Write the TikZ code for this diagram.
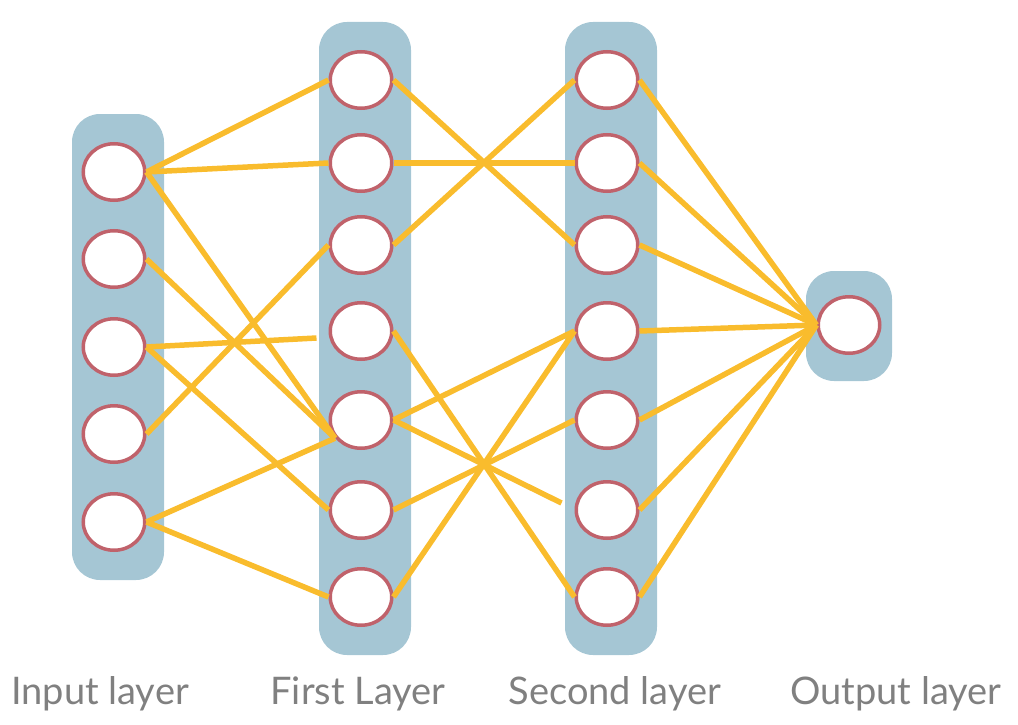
\documentclass[tikz,border=0pt]{standalone}
\usepackage{fontspec}
\setmainfont{Lato}
\usetikzlibrary{ shapes.geometric, % For the elliptic neurons
                 fit,              % For the layer boxes round the neurons
                 backgrounds,      % To put the layer boxes behind
               }
\definecolor{layerblue}{HTML}{A5C6D4}
\definecolor{neuronred}{HTML}{C0626B}
\definecolor{weightyellow}{HTML}{F9BC2D}
\definecolor{captiongray}{HTML}{808080}
\tikzstyle{neuron} = [ellipse, draw=neuronred, fill=white, line width=3.5pt, inner sep=0pt, minimum width=61.5pt, minimum height=56.5pt]
\tikzstyle{layerbox} = [rectangle, fill=layerblue, rounded corners=28pt, inner xsep=13.5pt, inner ysep=28pt]
\tikzstyle{weight} = [draw=weightyellow, line width=5.5pt]
\tikzstyle{caption} = [text=captiongray, anchor=base, font=\fontsize{38}{42}\selectfont]

\begin{document}
\begin{tikzpicture}[x=1pt, y=-1pt]
  \useasboundingbox (0,0) rectangle (1018,725);

  % input layer
  \node (i1) [neuron] at (114, 172) {};
  \node (i2) [neuron] at (114, 259) {};
  \node (i3) [neuron] at (114, 347) {};
  \node (i4) [neuron] at (114, 434) {};
  \node (i5) [neuron] at (114, 522) {};

  % first layer
  \node (f1) [neuron] at (361, 80) {};
  \node (f2) [neuron] at (361, 163) {};
  \node (f3) [neuron] at (361, 245) {};
  \node (f4) [neuron] at (361, 331) {};
  \node (f5) [neuron] at (361, 420) {};
  \node (f6) [neuron] at (361, 510) {};
  \node (f7) [neuron] at (361, 597) {};

  % second layer
  \node (s1) [neuron] at (607, 80) {};
  \node (s2) [neuron] at (607, 163) {};
  \node (s3) [neuron] at (607, 245) {};
  \node (s4) [neuron] at (607, 331) {};
  \node (s5) [neuron] at (607, 420) {};
  \node (s6) [neuron] at (607, 510) {};
  \node (s7) [neuron] at (607, 597) {};

  % output layer
  \node (o1) [neuron] at (849, 325) {};

  \begin{pgfonlayer}{background}
    \node (input) [layerbox, fit={(i1) (i5)}, xshift=4pt] {};
    \node (first) [layerbox, fit={(f1) (f7)}, xshift=4pt] {};
    \node (second) [layerbox, fit={(s1) (s7)}, xshift=4pt] {};
    \node (output) [layerbox, fit={(o1)}, inner xsep=10.5pt, inner ysep=25pt, yshift=-1pt] {};
  \end{pgfonlayer}

  \path [weight] (i1.east) edge (f1.west) edge (f2.west) edge ([shift={(-3,-3)}]f5.south west);
  \path [weight] (i2.east) edge ([shift={(-3,-3)}]f5.south west);
  \path [weight] (i3.east) edge ([shift={(-12,7)}]f4.west) edge (f6.west);
  \path [weight] (i4.east) edge (f3.west);
  \path [weight] (i5.east) edge ([shift={(-3,-3)}]f5.south west) edge (f7.west);

  \path [weight] (f1.east) edge (s3.west);
  \path [weight] (f2.east) edge (s2.west);
  \path [weight] (f3.east) edge (s1.west);
  \path [weight] (f4.east) edge (s7.west);
  \path [weight] (f5.east) edge (s4.west) edge ([shift={(-13,-7)}]s6.west);
  \path [weight] (f6.east) edge (s5.west);
  \path [weight] (f7.east) edge (s4.west);

  \path [weight] (o1.west) edge (s1.east) edge (s2.east) edge (s3.east) edge (s4.east)
                           edge (s5.east) edge (s6.east) edge (s7.east);

  \node (input_label) [caption] at (100, 704) {Input layer};
  \node (first_label) [caption] at (358, 704) {First Layer};
  \node (second_label) [caption] at (615, 704) {Second layer};
  \node (output_label) [caption] at (896, 704) {Output layer};

\end{tikzpicture}
\end{document}
